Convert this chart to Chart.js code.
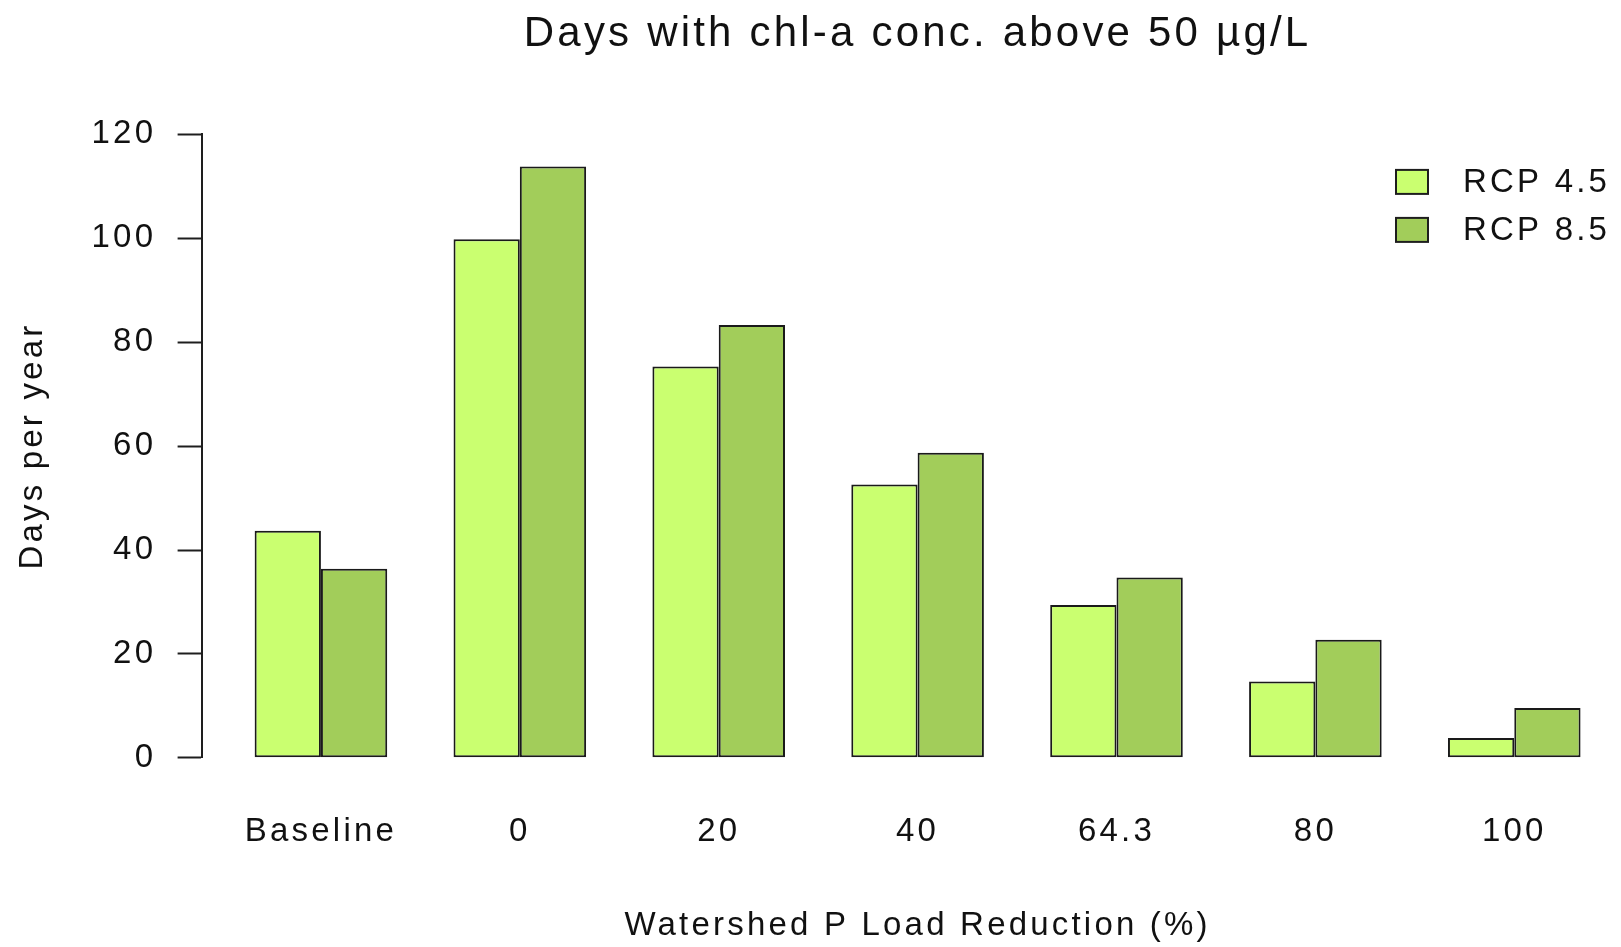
<!DOCTYPE html>
<html>
<head>
<meta charset="utf-8">
<title>Days with chl-a conc. above 50 µg/L</title>
<script src="https://cdn.jsdelivr.net/npm/chart.js@4.4.1/dist/chart.umd.min.js"></script>
<style>
  html, body { margin: 0; padding: 0; background: #ffffff; overflow: hidden; }
  #wrap { width: 1836px; height: 947px; }
</style>
</head>
<body>
<div id="wrap"><canvas id="chart" width="1836" height="947"></canvas></div>
<script>
// Scenario groups along the x axis (watershed P load reduction, %)
const categories = ['Baseline', '0', '20', '40', '64.3', '80', '100'];

// Days per year with chl-a above 50 µg/L
const rcp45 = [43.7, 99.8, 75.3, 52.6, 29.4, 14.7, 3.8];
const rcp85 = [36.4, 113.8, 83.3, 58.7, 34.7, 22.7, 9.6];

const seriesNames = ['RCP 4.5', 'RCP 8.5'];
const seriesColors = ['#CAFF70', '#A2CD5A'];

// y axis ticks
const yTicks = [0, 20, 40, 60, 80, 100, 120];

const FONT = '"Liberation Sans", Arial, Helvetica, sans-serif';
const TEXT_SPACING = '3.2px';
const INK = '#111111';

// Text in this figure is set with a little extra tracking
const tracking = {
  id: 'tracking',
  beforeLayout(chart) { chart.ctx.letterSpacing = TEXT_SPACING; },
  beforeDraw(chart) { chart.ctx.letterSpacing = TEXT_SPACING; }
};

// Boxed legend in the top-right corner of the plotting region
const cornerLegend = {
  id: 'cornerLegend',
  afterDraw(chart) {
    const { ctx, chartArea } = chart;
    ctx.save();
    ctx.letterSpacing = TEXT_SPACING;
    ctx.font = '33px ' + FONT;
    ctx.textBaseline = 'middle';
    ctx.textAlign = 'left';
    const boxW = 32, boxH = 24, rowGap = 48;
    const x0 = chartArea.right - 237.6;
    const y0 = chartArea.top + 47.5;
    chart.data.datasets.forEach((ds, i) => {
      const cy = y0 + i * rowGap;
      ctx.fillStyle = ds.backgroundColor;
      ctx.fillRect(x0, cy - boxH / 2, boxW, boxH);
      ctx.lineWidth = 2;
      ctx.strokeStyle = '#1e1e1e';
      ctx.strokeRect(x0, cy - boxH / 2, boxW, boxH);
      ctx.fillStyle = INK;
      ctx.fillText(ds.label, x0 + 67, cy + 1);
    });
    ctx.restore();
  }
};

const toPoints = vals => vals.map((v, i) => ({ x: i, y: v }));

const datasets = [rcp45, rcp85].map((vals, k) => ({
  label: seriesNames[k],
  data: toPoints(vals),
  backgroundColor: seriesColors[k],
  borderColor: '#1a1a1a',
  borderWidth: 2,
  borderSkipped: false,
  categoryPercentage: 2 / 3,
  barPercentage: 1
}));

new Chart(document.getElementById('chart'), {
  type: 'bar',
  data: { datasets },
  plugins: [tracking, cornerLegend],
  options: {
    responsive: false,
    animation: false,
    devicePixelRatio: 1,
    layout: { padding: { left: 0, right: 202.4, top: 0, bottom: 1.2 } },
    plugins: {
      legend: { display: false },
      tooltip: { enabled: false },
      title: {
        display: true,
        fullSize: false,
        text: 'Days with chl-a conc. above 50 µg/L',
        color: INK,
        font: { family: FONT, size: 42, weight: 'normal' },
        padding: { top: 8.8, bottom: 75.2 }
      }
    },
    scales: {
      x: {
        type: 'linear',
        min: -0.6,
        max: 6.6,
        offset: false,
        grid: { display: false, drawTicks: false },
        border: { display: false },
        afterBuildTicks(scale) {
          scale.ticks = categories.map((_, i) => ({ value: i }));
        },
        afterFit(scale) { scale.height = 188; },
        ticks: {
          autoSkip: false,
          maxRotation: 0,
          padding: 54.4,
          color: INK,
          font: { family: FONT, size: 33 },
          callback: v => categories[v]
        },
        title: {
          display: true,
          text: 'Watershed P Load Reduction (%)',
          color: INK,
          font: { family: FONT, size: 33 },
          padding: { top: 0, bottom: 0 }
        }
      },
      y: {
        min: 0,
        max: 120,
        afterBuildTicks(scale) {
          scale.ticks = yTicks.map(v => ({ value: v }));
        },
        afterFit(scale) { scale.width = 201.6; },
        grid: {
          display: true,
          drawOnChartArea: false,
          drawTicks: true,
          tickLength: 24,
          tickWidth: 2,
          tickColor: '#1e1e1e'
        },
        border: { display: true, color: '#1e1e1e', width: 2 },
        ticks: {
          padding: 21.4,
          color: INK,
          font: { family: FONT, size: 33 }
        },
        title: {
          display: true,
          text: 'Days per year',
          color: INK,
          font: { family: FONT, size: 33 },
          padding: { top: 13.2, bottom: 0 }
        }
      }
    }
  }
});
</script>
</body>
</html>
